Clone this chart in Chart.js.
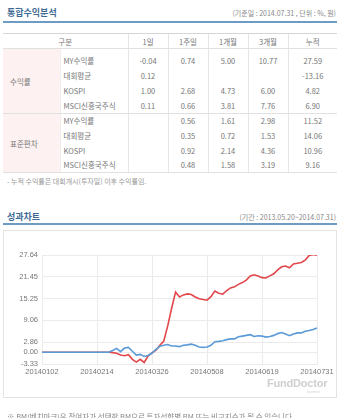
<!DOCTYPE html>
<html>
<head>
<meta charset="utf-8">
<script src="https://cdn.jsdelivr.net/npm/chart.js@4"></script>
<style>
  html, body { margin: 0; padding: 0; background: #fff; }
  body { width: 340px; height: 418px; overflow: hidden; position: relative;
         font-family: "Noto Sans CJK KR", "Noto Sans", sans-serif; color: #777; }
  .ttl { position: absolute; left: 7px; font-size: 9px; font-weight: bold; color: #3e6a93; }
  .sub { position: absolute; right: 4px; font-size: 7px; color: #888; }
  .bar { position: absolute; left: 3px; width: 334px; height: 2px; background: #6d9bc3; }
  table { position: absolute; left: 3px; top: 33px; width: 334px; border-collapse: collapse;
          table-layout: fixed; font-size: 7.5px; color: #777; }
  td, th { padding: 0; font-weight: normal; text-align: center; border-left: 1px solid #e6e6e6; }
  th { height: 14px; border-top: 1px solid #d5d5d5; border-bottom: 1px solid #e0e0e0; }
  td.grp { background: #fdf1f1; text-align: left; padding-left: 7px; border-left: none; }
  td.nm { text-align: left; padding-left: 3px; border-left: 1px solid #eee; }
  tr.end td { border-bottom: 1px solid #e0e0e0; }
  .note { position: absolute; left: 7px; top: 176px; font-size: 7px; color: #999; }
  .box { position: absolute; left: 3px; top: 230px; width: 332px; height: 166px; border: 1px solid #e3e3e3; }
  .chartWrap { position: absolute; left: 3px; top: 240px; width: 334px; height: 145px; }
  .logo { position: absolute; left: 267px; top: 377px; font-family: "Liberation Sans", Arial, sans-serif;
          font-size: 11px; font-weight: bold; color: #cfcfcf; letter-spacing: -0.2px; }
  .logo2 { position: absolute; left: 307px; top: 390px; font-size: 3px; color: #ccc; }
  .foot { position: absolute; left: 7px; top: 411px; font-size: 7.5px; color: #888; white-space: nowrap; }
</style>
</head>
<body>
<div class="ttl" style="top:6px">통합수익분석</div>
<div class="sub" style="top:8px">(기준일 : 2014.07.31 , 단위 : %, 원)</div>
<div class="bar" style="top:21px"></div>

<table id="tbl">
  <colgroup>
    <col style="width:57px"><col style="width:68px"><col style="width:40px"><col style="width:40px">
    <col style="width:40px"><col style="width:40px"><col style="width:49px">
  </colgroup>
</table>
<div class="note">- 누적 수익률은 대회개시(투자일) 이후 수익률임.</div>

<div class="ttl" style="top:210px">성과차트</div>
<div class="sub" style="top:212px">(기간 : 2013.05.20~2014.07.31)</div>
<div class="bar" style="top:223px"></div>
<div class="box"></div>
<div class="chartWrap"><canvas id="perfChart"></canvas></div>
<div class="logo">FundDoctor</div>
<div class="logo2">by zeroin</div>
<div class="foot">※ BM(벤치마크)은 참여자가 선택한 BM으로 투자성향별 BM 또는 비교지수가 될 수 있습니다.</div>

<script>
// ---- table data ----
const periods = ['1일', '1주일', '1개월', '3개월', '누적'];
const rowNames = ['MY수익률', '대회평균', 'KOSPI', 'MSCI신흥국주식'];
const returnRows = [
    ['-0.04', '0.74', '5.00', '10.77', '27.59'],
    ['0.12', '', '', '', '-13.16'],
    ['1.00', '2.68', '4.73', '6.00', '4.82'],
    ['0.11', '0.66', '3.81', '7.76', '6.90'],
];
const stdevRows = [
    ['', '0.56', '1.61', '2.98', '11.52'],
    ['', '0.35', '0.72', '1.53', '14.06'],
    ['', '0.92', '2.14', '4.36', '10.96'],
    ['', '0.48', '1.58', '3.19', '9.16'],
];

// ---- chart data ----
const dates = [
    '20140102','20140106','20140108','20140110','20140114','20140116','20140120','20140122',
    '20140124','20140128','20140204','20140206','20140210','20140212','20140214',
    '20140218','20140220','20140224','20140226','20140228','20140304','20140306','20140310',
    '20140312','20140314','20140318','20140320','20140324','20140326',
    '20140328','20140401','20140403','20140407','20140409','20140411','20140415','20140417',
    '20140421','20140423','20140425','20140429','20140502','20140508',
    '20140512','20140514','20140516','20140520','20140522','20140526','20140528','20140530',
    '20140603','20140605','20140609','20140611','20140613','20140619',
    '20140623','20140625','20140627','20140701','20140703','20140707','20140709','20140711',
    '20140715','20140717','20140721','20140723','20140725','20140731'
];
const shownDates = ['20140102', '20140214', '20140326', '20140508', '20140619', '20140731'];
const myReturn = [
    0, 0, 0, 0, 0, 0, 0, 0, 0, 0, 0, 0, 0, 0, 0,
    0, 0, 0, -0.1, -0.3, -0.8, -1.0, -0.7, -2.0, -2.8, -2.0, -2.9, -1.1, -0.2,
    0.6, 2.0, 3.2, 7.5, 12.5, 17.1, 15.7, 16.3, 16.6, 16.4, 15.7, 15.2, 15.0, 14.8,
    15.8, 17.4, 16.8, 16.5, 17.5, 18.3, 18.6, 19.3, 19.8, 20.5, 21.7, 22.0, 21.7, 21.2,
    21.1, 21.7, 22.3, 23.4, 24.3, 24.5, 24.0, 25.1, 25.3, 25.5, 26.2, 27.5, 27.8, 27.6
];
const msciEm = [
    0, 0, 0, 0, 0, 0, 0, 0, 0, 0, 0, 0, 0, 0, 0,
    0, 0, 0, 0.5, 1.1, 0.2, 1.2, 1.4, 0.3, -0.8, -0.6, -1.2, -0.9, -0.2,
    0.8, 1.7, 2.0, 2.2, 1.8, 1.8, 1.6, 2.0, 2.1, 2.3, 2.0, 1.5, 1.4, 1.5,
    2.0, 3.0, 3.1, 3.3, 3.6, 3.8, 3.8, 4.4, 4.6, 4.8, 5.0, 4.5, 4.7, 4.6,
    4.3, 4.5, 4.8, 5.3, 5.6, 5.2, 4.7, 5.2, 5.5, 5.5, 6.0, 6.2, 6.5, 6.9
];
const yTicks = [-3.33, 0.00, 2.86, 9.06, 15.25, 21.45, 27.64];

// build the table
const tbl = document.getElementById('tbl');
let html = '<tr><th colspan="2" style="border-left:none">구분</th>' + periods.map(p => '<th>' + p + '</th>').join('') + '</tr>';
function group(label, rows, heights, pads) {
    let s = '';
    rows.forEach((r, i) => {
        const cls = i === rows.length - 1 ? ' class="end"' : '';
        s += '<tr' + cls + ' style="height:' + heights[i] + 'px">';
        if (i === 0) s += '<td class="grp" rowspan="' + rows.length + '" style="border-bottom:1px solid #e0e0e0">' + label + '</td>';
        s += '<td class="nm" style="padding-top:' + pads[i] + 'px">' + rowNames[i] + '</td>';
        s += r.map(v => '<td style="padding-top:' + pads[i] + 'px">' + v + '</td>').join('');
        s += '</tr>';
    });
    return s;
}
html += group('수익률', returnRows, [19, 15, 15, 16], [4, 0, 0, 0]);
html += group('표준편차', stdevRows, [14, 15, 15, 15], [0, 0, 0, 0]);
tbl.insertAdjacentHTML('beforeend', html);

new Chart(document.getElementById('perfChart'), {
    type: 'line',
    data: {
        labels: dates,
        datasets: [
            {
                label: 'MSCI신흥국주식',
                data: msciEm,
                borderColor: '#5a9ad6',
                borderWidth: 1.6,
                pointRadius: 0,
                tension: 0,
                order: 0,
            },
            {
                label: 'MY수익률',
                data: myReturn,
                borderColor: '#e2474b',
                borderWidth: 1.6,
                pointRadius: 0,
                tension: 0,
                order: 1,
            }
        ]
    },
    options: {
        responsive: true,
        maintainAspectRatio: false,
        animation: false,
        layout: { padding: { top: 15, right: 20, left: 0, bottom: 0 } },
        plugins: { legend: { display: false }, tooltip: { enabled: false } },
        scales: {
            x: {
                type: 'category',
                afterFit: s => { s.height = 21; },
                grid: { color: '#ebebeb', drawTicks: false },
                border: { color: '#ebebeb' },
                ticks: {
                    autoSkip: false, maxRotation: 0, padding: 3,
                    font: { family: 'Liberation Sans', size: 7.5 }, color: '#777',
                    callback: (v, i) => shownDates.includes(dates[i]) ? dates[i] : null
                }
            },
            y: {
                min: -3.33,
                max: 27.64,
                afterFit: s => { s.width = 39; },
                afterBuildTicks: s => { s.ticks = yTicks.map(v => ({ value: v })); },
                grid: { color: '#ebebeb', drawTicks: false },
                border: { display: false },
                ticks: {
                    padding: 4,
                    font: { family: 'Liberation Sans', size: 7.5 }, color: '#777',
                    callback: v => v.toFixed(2)
                }
            }
        }
    }
});
</script>
</body>
</html>
